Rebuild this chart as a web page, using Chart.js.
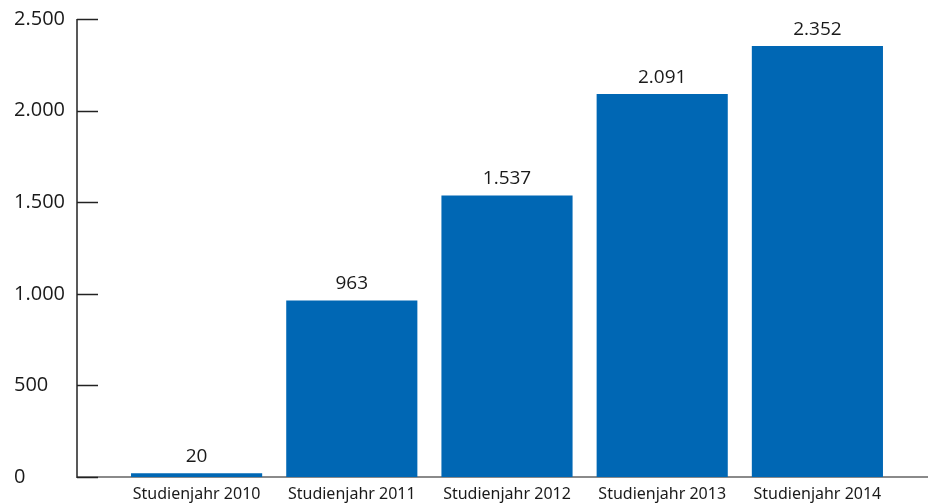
<!DOCTYPE html>
<html>
<head>
<meta charset="utf-8">
<script src="https://cdn.jsdelivr.net/npm/chart.js@4/dist/chart.umd.min.js"></script>
<style>
  html, body { margin: 0; padding: 0; background: #fff; }
  canvas { display: block; }
</style>
</head>
<body>
<canvas id="chart" width="928" height="504"></canvas>
<script>
// Données du graphique
var categories = ["Studienjahr 2010", "Studienjahr 2011", "Studienjahr 2012", "Studienjahr 2013", "Studienjahr 2014"];
var values = [20, 963, 1537, 2091, 2352];
var yTicks = [0, 500, 1000, 1500, 2000, 2500];

var barColor = "#0067b4";
var axisX = 77;

// Format allemand : point comme séparateur de milliers
function formatDe(n) {
    return String(n).replace(/\B(?=(\d{3})+(?!\d))/g, ".");
}

// Plugin : axe vertical, petites graduations et ligne de base grise
var axesPlugin = {
    id: "axes",
    beforeDatasetsDraw: function(chart) {
        var ctx = chart.ctx;
        var y = chart.scales.y;
        var top = y.getPixelForValue(2500);
        var bottom = y.getPixelForValue(0);
        ctx.save();
        // ligne de base
        ctx.strokeStyle = "#8a8a8a";
        ctx.lineWidth = 2;
        ctx.beginPath();
        ctx.moveTo(axisX, bottom);
        ctx.lineTo(chart.width, bottom);
        ctx.stroke();
        // axe Y
        ctx.strokeStyle = "#222";
        ctx.lineWidth = 1.5;
        ctx.beginPath();
        ctx.moveTo(axisX, top);
        ctx.lineTo(axisX, bottom + 1);
        ctx.stroke();
        // graduations
        yTicks.forEach(function(v) {
            var py = Math.round(y.getPixelForValue(v)) + 0.5;
            ctx.beginPath();
            ctx.moveTo(axisX, py);
            ctx.lineTo(axisX + 21, py);
            ctx.stroke();
        });
        ctx.restore();
    }
};

// Plugin : valeurs au-dessus des barres
var labelsPlugin = {
    id: "valueLabels",
    afterDatasetsDraw: function(chart) {
        var ctx = chart.ctx;
        var meta = chart.getDatasetMeta(0);
        ctx.save();
        ctx.font = "19px 'Open Sans'";
        ctx.fillStyle = "#1a1a1a";
        ctx.textAlign = "center";
        ctx.textBaseline = "bottom";
        meta.data.forEach(function(bar, i) {
            ctx.fillText(formatDe(values[i]), bar.x, bar.y - 7);
        });
        ctx.restore();
    }
};

var ctx = document.getElementById("chart").getContext("2d");
window.myChart = new Chart(ctx, {
    type: "bar",
    data: {
        labels: categories,
        datasets: [{
            data: values,
            backgroundColor: barColor,
            borderWidth: 0,
            categoryPercentage: 1,
            barPercentage: 0.845
        }]
    },
    options: {
        responsive: false,
        animation: false,
        devicePixelRatio: 1,
        layout: { padding: { left: 14, right: 33, top: 19, bottom: 0 } },
        plugins: {
            legend: { display: false },
            tooltip: { enabled: false }
        },
        scales: {
            x: {
                offset: true,
                grid: { display: false, drawTicks: false },
                border: { display: false },
                ticks: {
                    color: "#1a1a1a",
                    font: { family: "'Noto Sans'", size: 16, lineHeight: 1 },
                    padding: 9,
                    autoSkip: false,
                    maxRotation: 0
                },
                afterFit: function(scale) { scale.height = 27; }
            },
            y: {
                min: 0,
                max: 2500,
                grid: { display: false, drawTicks: false },
                border: { display: false },
                afterBuildTicks: function(scale) {
                    scale.ticks = yTicks.map(function(v) { return { value: v }; });
                },
                ticks: {
                    crossAlign: "far",
                    color: "#1a1a1a",
                    font: { family: "'Open Sans'", size: 20 },
                    callback: function(v) { return formatDe(v); }
                },
                afterFit: function(scale) { scale.width = 105; }
            }
        }
    },
    plugins: [axesPlugin, labelsPlugin]
});
</script>
</body>
</html>
